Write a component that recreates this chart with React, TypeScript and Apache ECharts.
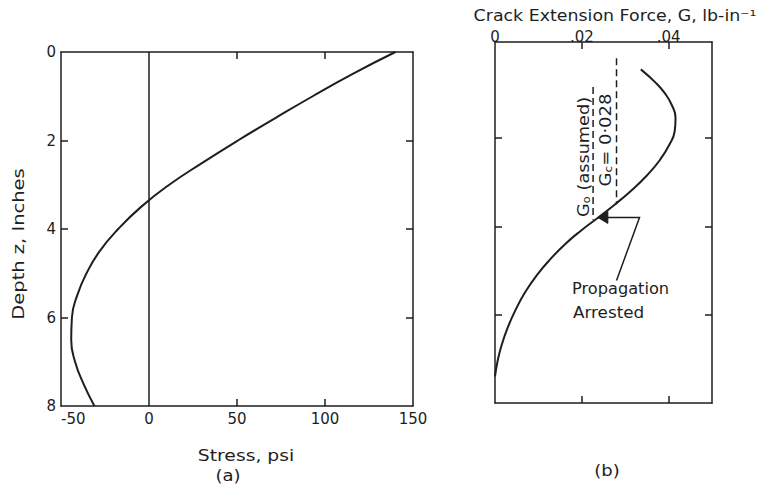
import React, { useEffect, useRef } from "react";
import * as echarts from "echarts";

// Panel (a): stress vs depth
const depthA = [0, 0.5, 1, 1.5, 2, 2.5, 3, 3.5, 4, 4.5, 5, 5.5, 6, 6.5, 7, 7.5, 8];
const stressA = [140, 115.5, 93, 71.5, 50.5, 30.5, 11.5, -4.5, -17.5, -28, -35.5, -40.8, -43.8, -44.2, -42, -37.2, -31];

// Panel (b): crack extension force vs depth
const depthB = [0.45, 0.75, 1.0, 1.25, 1.55, 1.85, 2.15, 2.5, 2.85, 3.2, 3.5, 3.8, 4.1, 4.4, 4.75, 5.1, 5.5, 5.9, 6.3, 6.7, 7.05, 7.4];
const forceB = [0.0336, 0.037, 0.0392, 0.0407, 0.0416, 0.0414, 0.0402, 0.038, 0.035, 0.0313, 0.0277, 0.0238, 0.0198, 0.0162, 0.0127, 0.0097, 0.0069, 0.0047, 0.0029, 0.0015, 0.0006, 0];

// reference lines
const g0Value = 0.0226;
const g0Depths = [0.85, 3.85];
const gcValue = 0.028;
const gcDepths = [0.2, 3.5];

// tick labels
const stressTicks = [-50, 0, 50, 100, 150];
const depthTicks = [0, 2, 4, 6, 8];
const forceLabelTicks = [0, 0.02, 0.04];
const innerDepthTicks = [2, 4, 6];
const innerStressTicks = [50, 100];
const innerForceTicks = [0.02, 0.04];

// arrow annotation anchor (data coords in panel b)
const arrowTip = [0.0237, 3.8];
const arrowElbow = [0.0333, 3.8];
const arrowEnd = [0.028, 5.23];

const INK = "#1e1e1e";
const FONT = "DejaVu Sans";

function tick(values: number[]) {
  return { show: true, inside: true, length: 7, customValues: values, lineStyle: { color: INK, width: 1.5 } };
}

function axisBase(extra: any) {
  return {
    type: "value",
    axisLine: { show: true, onZero: false, lineStyle: { color: INK, width: 1.5 } },
    splitLine: { show: false },
    axisLabel: { show: false },
    ...extra,
  };
}

export default function App() {
  const ref = useRef<HTMLDivElement>(null);
  useEffect(() => {
    if (!ref.current) return;
    const chart = echarts.init(ref.current, null, { renderer: "svg" });
    const labelStyle = { color: INK, fontFamily: FONT, fontSize: 15 };
    const option: any = {
      animation: false,
      backgroundColor: "#ffffff",
      grid: [
        { left: 61, top: 52, width: 352, height: 354 },
        { left: 495, top: 42, width: 217, height: 361 },
      ],
      xAxis: [
        axisBase({
          gridIndex: 0,
          position: "bottom",
          min: stressTicks[0],
          max: stressTicks[stressTicks.length - 1],
          interval: 50,
          axisTick: tick(innerStressTicks),
          axisLabel: { show: true, margin: 5, alignMinLabel: "left", ...labelStyle },
        }),
        axisBase({
          gridIndex: 0,
          position: "top",
          min: -50,
          max: 150,
          interval: 50,
          axisTick: tick(innerStressTicks),
        }),
        axisBase({
          gridIndex: 1,
          position: "top",
          min: 0,
          max: 0.05,
          interval: 0.01,
          axisTick: tick(innerForceTicks),
          axisLabel: {
            show: true,
            margin: -2,
            customValues: forceLabelTicks,
            formatter: (v: number) => (v === 0 ? "0" : "." + String(Math.round(v * 100)).padStart(2, "0")),
            ...labelStyle,
          },
        }),
        axisBase({
          gridIndex: 1,
          position: "bottom",
          min: 0,
          max: 0.05,
          interval: 0.01,
          axisTick: tick(innerForceTicks),
        }),
      ],
      yAxis: [
        axisBase({
          gridIndex: 0,
          position: "left",
          inverse: true,
          min: depthTicks[0],
          max: depthTicks[depthTicks.length - 1],
          interval: 2,
          axisTick: tick(innerDepthTicks),
          axisLabel: { show: true, margin: 5, ...labelStyle },
        }),
        axisBase({
          gridIndex: 0,
          position: "right",
          inverse: true,
          min: 0,
          max: 8,
          interval: 2,
          axisTick: tick(innerDepthTicks),
        }),
        axisBase({
          gridIndex: 1,
          position: "left",
          inverse: true,
          min: -0.17,
          max: 8,
          axisTick: tick(innerDepthTicks),
        }),
        axisBase({
          gridIndex: 1,
          position: "right",
          inverse: true,
          min: -0.17,
          max: 8,
          axisTick: tick(innerDepthTicks),
        }),
      ],
      series: [
        {
          type: "line",
          xAxisIndex: 0,
          yAxisIndex: 0,
          data: [[0, 0], [0, 8]],
          symbol: "none",
          lineStyle: { color: INK, width: 1.5 },
          silent: true,
        },
        {
          type: "line",
          xAxisIndex: 0,
          yAxisIndex: 0,
          data: depthA.map((d, i) => [stressA[i], d]),
          symbol: "none",
          smooth: 0.5,
          lineStyle: { color: INK, width: 2 },
        },
        {
          type: "line",
          xAxisIndex: 2,
          yAxisIndex: 2,
          data: depthB.map((d, i) => [forceB[i], d]),
          symbol: "none",
          smooth: 0.5,
          lineStyle: { color: INK, width: 2 },
        },
        {
          type: "line",
          xAxisIndex: 2,
          yAxisIndex: 2,
          data: g0Depths.map((d) => [g0Value, d]),
          symbol: "none",
          lineStyle: { color: INK, width: 1.5, type: [7, 4] },
        },
        {
          type: "line",
          xAxisIndex: 2,
          yAxisIndex: 2,
          data: gcDepths.map((d) => [gcValue, d]),
          symbol: "none",
          lineStyle: { color: INK, width: 1.5, type: [7, 4] },
        },
      ],
    };
    chart.setOption(option);

    const px = (p: number[]) => chart.convertToPixel({ gridIndex: 1 }, p) as number[];
    const tip = px(arrowTip);
    const elbow = px(arrowElbow);
    const end = px(arrowEnd);
    const txt = (text: string, x: number, y: number, extra: any = {}) => ({
      type: "text",
      x,
      y,
      ...extra,
      style: {
        text,
        fill: INK,
        font: `15px "${FONT}"`,
        align: "center",
        verticalAlign: "middle",
        ...(extra.style || {}),
      },
    });
    const sub = { s: { fontSize: 10, fontFamily: FONT, fill: INK, padding: [6, 0, 0, 0] } };

    chart.setOption({
      graphic: [
        txt("Depth z, Inches", 19, 244, { rotation: Math.PI / 2, scaleX: 1.3 }),
        txt("Stress, psi", 246, 456, { scaleX: 1.25 }),
        txt("(a)", 228, 476, { scaleX: 1.2 }),
        txt("(b)", 607, 471, { scaleX: 1.2 }),
        txt("Crack Extension Force, G, lb-in⁻¹", 615, 16, { scaleX: 1.16 }),
        {
          type: "text",
          x: 584,
          y: 157,
          rotation: Math.PI / 2,
          scaleX: 1.18,
          style: {
            text: "G{s|o} (assumed)",
            fill: INK,
            font: `15px "${FONT}"`,
            align: "center",
            verticalAlign: "middle",
            rich: sub,
          },
        },
        {
          type: "text",
          x: 606,
          y: 140,
          rotation: Math.PI / 2,
          scaleX: 1.2,
          style: {
            text: "G{s|c}= 0·028",
            fill: INK,
            font: `15px "${FONT}"`,
            align: "center",
            verticalAlign: "middle",
            rich: sub,
          },
        },
        txt("Propagation", 572, 289, { scaleX: 1.08, style: { align: "left" } }),
        txt("Arrested", 573, 313, { scaleX: 1.12, style: { align: "left" } }),
        {
          type: "polyline",
          shape: { points: [[tip[0] + 8, tip[1]], elbow, end] },
          style: { stroke: INK, lineWidth: 1.5, fill: null },
        },
        {
          type: "polygon",
          shape: { points: [tip, [tip[0] + 10, tip[1] - 6], [tip[0] + 10, tip[1] + 6]] },
          style: { fill: INK, stroke: INK, lineWidth: 1 },
        },
      ],
    });

    return () => chart.dispose();
  }, []);
  return (
    <div
      ref={ref}
      style={{ position: "fixed", left: 0, top: 0, width: 765, height: 485, background: "#fff" }}
    />
  );
}
